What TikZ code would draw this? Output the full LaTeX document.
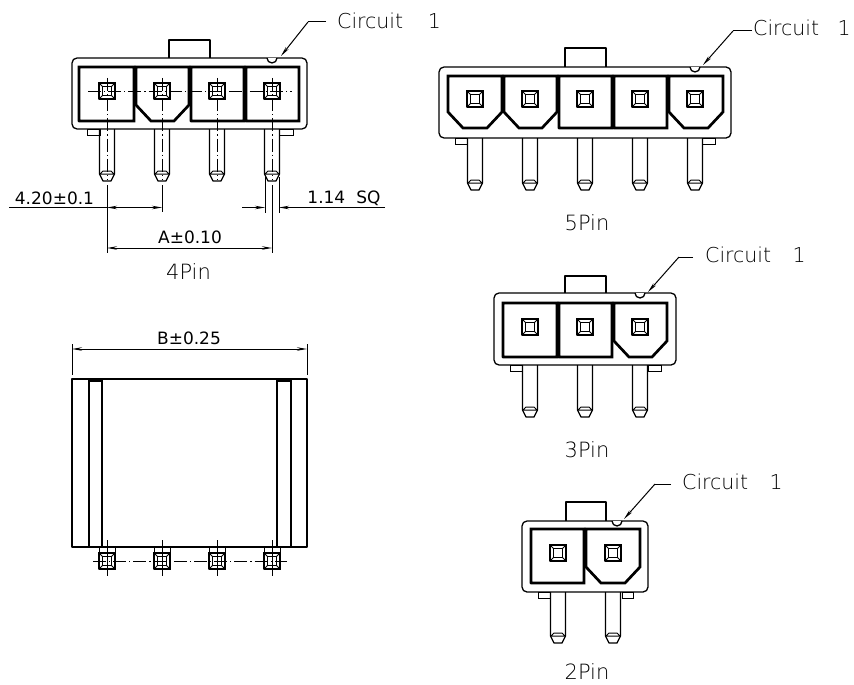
\documentclass[tikz,border=0pt]{standalone}
\usepackage{fontspec}
\setmainfont{DejaVu Sans}
\newfontfamily\lightfont{DejaVu Sans ExtraLight}
\usetikzlibrary{arrows.meta}
\tikzstyle{outline} = [line width=1.3pt,line join=round]
\tikzstyle{thin line} = [line width=1pt]
\tikzstyle{pocket} = [line width=2.7pt,line join=miter]
\tikzstyle{center line} = [line width=.9pt,dash pattern=on 13pt off 3pt on 1.2pt off 3pt]
\tikzstyle{arrow} = [line width=1pt,-{Stealth[length=10pt,width=3.5pt]}]
\tikzstyle{dim} = [line width=1pt,{Stealth[length=10pt,width=3.5pt]}-{Stealth[length=10pt,width=3.5pt]}]
\tikzstyle{leader} = [font=\lightfont\fontsize{20.5}{20}\selectfont,inner sep=0pt,anchor=west]
\tikzstyle{dimtext} = [font=\fontsize{17}{17}\selectfont,inner sep=0pt]
\tikzstyle{pintext} = [font=\lightfont\fontsize{21}{21}\selectfont,inner sep=0pt]

% x left, x right, y top, y bottom
\newcommand{\body}[4]{\draw[outline,rounded corners=5pt] (#1,#3) -- (#2,#3) -- (#2,#4) -- (#1,#4) -- cycle;}
\newcommand{\plainpocket}[4]{\draw[pocket] (#1,#3) -- (#2,#3) -- (#2,#4) -- (#1+.4,#4) -- (#1,#4-.4) -- cycle;}
\newcommand{\keypocket}[4]{\draw[pocket] (#1,#3) -- (#2,#3) -- (#2,#4-16) -- (#2-15,#4) -- (#1+15,#4) -- (#1,#4-16) -- cycle;}
\newcommand{\lug}[4]{\draw[thin line] (#1,#3) -- (#2,#3) -- (#2,#4) -- (#1,#4) -- cycle;}
% x, y
\newcommand{\contact}[2]{
	\draw[line width=1.8pt] (#1-8,#2-8) -- (#1+8,#2-8) -- (#1+8,#2+8) -- (#1-7.6,#2+8) -- (#1-8,#2+7.6) -- cycle;
	\draw[thin line] (#1-4.5,#2-4.5) -- (#1+4.5,#2-4.5) -- (#1+4.5,#2+4.5) -- (#1-4.5,#2+4.5) -- cycle;
	\draw[thin line] (#1-8,#2-8) -- (#1-4.5,#2-4.5) (#1+8,#2-8) -- (#1+4.5,#2-4.5) (#1-8,#2+8) -- (#1-4.5,#2+4.5) (#1+8,#2+8) -- (#1+4.5,#2+4.5);
}
% x, y at the body, y at the tip
\newcommand{\pinleg}[3]{
	\draw[outline] (#1-7.5,#2) -- (#1-7.5,#3-7) -- (#1-4,#3) -- (#1+4,#3) -- (#1+7.5,#3-7) -- (#1+7.5,#2);
	\draw[thin line] (#1-7.5,#3-7) -- (#1+7.5,#3-7) (#1-7,#3-7) -- (#1-4,#3-10) -- (#1+4,#3-10) -- (#1+7,#3-7);
}

\begin{document}
\begin{tikzpicture}[x=1pt,y=-1pt]
	\useasboundingbox (0,0) rectangle (854,685);

	% 4Pin
	\draw[outline] (169,58) -- (169,40) -- (210,40) -- (210,58);
	\body{72}{307}{58}{129}
	\draw[outline,fill=white] (267,58) arc (180:0:5);
	\plainpocket{79}{134}{67}{121}
	\keypocket{136}{189}{67}{121}
	\plainpocket{191}{244}{67}{121}
	\plainpocket{246}{299}{67}{121}
	\contact{107}{91}
	\contact{162}{91}
	\contact{217}{91}
	\contact{272}{91}
	\lug{87}{100}{129}{135}
	\lug{279}{293}{129}{135}
	\pinleg{107}{129}{181}
	\pinleg{162}{129}{181}
	\pinleg{217}{129}{181}
	\pinleg{272}{129}{181}
	\draw[center line] (88,91) -- (292,91);
	\draw[center line] (107,78) -- (107,180);
	\draw[center line] (162,78) -- (162,180);
	\draw[center line] (217,78) -- (217,180);
	\draw[center line] (272,78) -- (272,180);
	\node[leader] (circuit4) at (337,21) {Circuit\hspace{1.2em}1};
	\coordinate (knee4) at (308,22);
	\coordinate (bump4) at (281,56);
	\draw[thin line] (circuit4.west)+(-11,1) -- (knee4);
	\draw[arrow] (knee4) -- (bump4);

	\coordinate (dimA) at (107,185);
	\coordinate (dimB) at (162,185);
	\coordinate (dimC) at (272,185);
	\draw[thin line] (dimA) -- (107,253);
	\draw[thin line] (dimB) -- (162,212);
	\draw[thin line] (dimC) -- (272,253);
	\draw[thin line] (265,177) -- (265,213);
	\draw[thin line] (279,177) -- (279,213);
	\node[dimtext] (pitch) at (54.5,198) {4.20±0.1};
	\node[dimtext] (sq) at (344,198) {1.14\hspace{.65em}SQ};
	\node[dimtext] (width) at (190,237) {A±0.10};
	\node[pintext] (label4) at (188.5,272) {4Pin};
	\draw[thin line] (9,207.5) -- (107,207.5);
	\draw[dim] (107,207.5) -- (162,207.5);
	\draw[arrow] (242,207.5) -- (265,207.5);
	\draw[arrow] (385,207.5) -- (279,207.5);
	\draw[dim] (107,248) -- (272,248);

	% side view
	\draw[outline] (72,379) -- (307,379) -- (307,547) -- (72,547) -- cycle;
	\draw[outline] (89,379) -- (89,547);
	\draw[outline] (102,379) -- (102,547);
	\draw[outline] (277,379) -- (277,547);
	\draw[outline] (291,379) -- (291,547);
	\draw[line width=2.4pt] (89,381) -- (102,381);
	\draw[line width=2.4pt] (277,381) -- (291,381);
	\draw[thin line] (72,344) -- (72,375);
	\draw[thin line] (307,344) -- (307,375);
	\draw[dim] (72,349) -- (307,349);
	\node[dimtext] (depth) at (189,338) {B±0.25};
	\contact{107}{561}
	\contact{162}{561}
	\contact{217}{561}
	\contact{272}{561}
	\draw[thin line] (99,547) -- (99,553) (115,547) -- (115,553);
	\draw[thin line] (154,547) -- (154,553) (170,547) -- (170,553);
	\draw[thin line] (209,547) -- (209,553) (225,547) -- (225,553);
	\draw[thin line] (264,547) -- (264,553) (280,547) -- (280,553);
	\draw[center line] (93,561) -- (287,561);
	\draw[center line,dash pattern=on 36pt off 2pt] (107,540) -- (107,576);
	\draw[center line,dash pattern=on 36pt off 2pt] (162,540) -- (162,576);
	\draw[center line,dash pattern=on 36pt off 2pt] (217,540) -- (217,576);
	\draw[center line,dash pattern=on 36pt off 2pt] (272,540) -- (272,576);

	% 5Pin
	\draw[outline] (565,67) -- (565,48) -- (606,48) -- (606,67);
	\body{439}{731}{67}{138}
	\draw[outline,fill=white] (690,67) arc (180:0:5);
	\keypocket{448}{502}{76}{128}
	\keypocket{504}{557}{76}{128}
	\plainpocket{559}{612}{76}{128}
	\plainpocket{614}{667}{76}{128}
	\keypocket{669}{723}{76}{128}
	\contact{475}{99}
	\contact{530}{99}
	\contact{585}{99}
	\contact{640}{99}
	\contact{695}{99}
	\lug{455}{467}{138}{144}
	\lug{702}{715}{138}{144}
	\pinleg{475}{138}{190}
	\pinleg{530}{138}{190}
	\pinleg{585}{138}{190}
	\pinleg{640}{138}{190}
	\pinleg{695}{138}{190}
	\node[leader] (circuit5) at (753,28) {Circuit\hspace{.9em}1};
	\coordinate (knee5) at (733,31);
	\coordinate (bump5) at (703,65);
	\draw[thin line] (circuit5.west)+(-1,3) -- (knee5);
	\draw[arrow] (knee5) -- (bump5);
	\node[pintext] (label5) at (587,223) {5Pin};

	% 3Pin
	\draw[outline] (565,293) -- (565,276) -- (606,276) -- (606,293);
	\body{494}{676}{293}{365}
	\draw[outline,fill=white] (635,293) arc (180:0:5);
	\plainpocket{503}{557}{303}{357}
	\plainpocket{559}{612}{303}{357}
	\keypocket{614}{667}{303}{357}
	\contact{530}{327}
	\contact{585}{327}
	\contact{640}{327}
	\lug{510}{522}{365}{371}
	\lug{648}{661}{365}{371}
	\pinleg{530}{365}{417}
	\pinleg{585}{365}{417}
	\pinleg{640}{365}{417}
	\node[leader] (circuit3) at (705,255) {Circuit\hspace{1.05em}1};
	\coordinate (knee3) at (679,257);
	\coordinate (bump3) at (648,292);
	\draw[thin line] (circuit3.west)+(-12,2) -- (knee3);
	\draw[arrow] (knee3) -- (bump3);
	\node[pintext] (label3) at (587,450) {3Pin};

	% 2Pin
	\draw[outline] (566,521) -- (566,502) -- (606,502) -- (606,521);
	\body{522}{648}{521}{592}
	\draw[outline,fill=white] (612,521) arc (180:0:5);
	\plainpocket{531}{584}{529}{583}
	\keypocket{586}{640}{529}{583}
	\contact{558}{553}
	\contact{613}{553}
	\lug{538}{550}{592}{598}
	\lug{622}{633}{592}{598}
	\pinleg{558}{592}{643}
	\pinleg{613}{592}{643}
	\node[leader] (circuit2) at (682,482) {Circuit\hspace{1.05em}1};
	\coordinate (knee2) at (655,484);
	\coordinate (bump2) at (624,519);
	\draw[thin line] (circuit2.west)+(-11,2) -- (knee2);
	\draw[arrow] (knee2) -- (bump2);
	\node[pintext] (label2) at (587,671.5) {2Pin};
\end{tikzpicture}
\end{document}
